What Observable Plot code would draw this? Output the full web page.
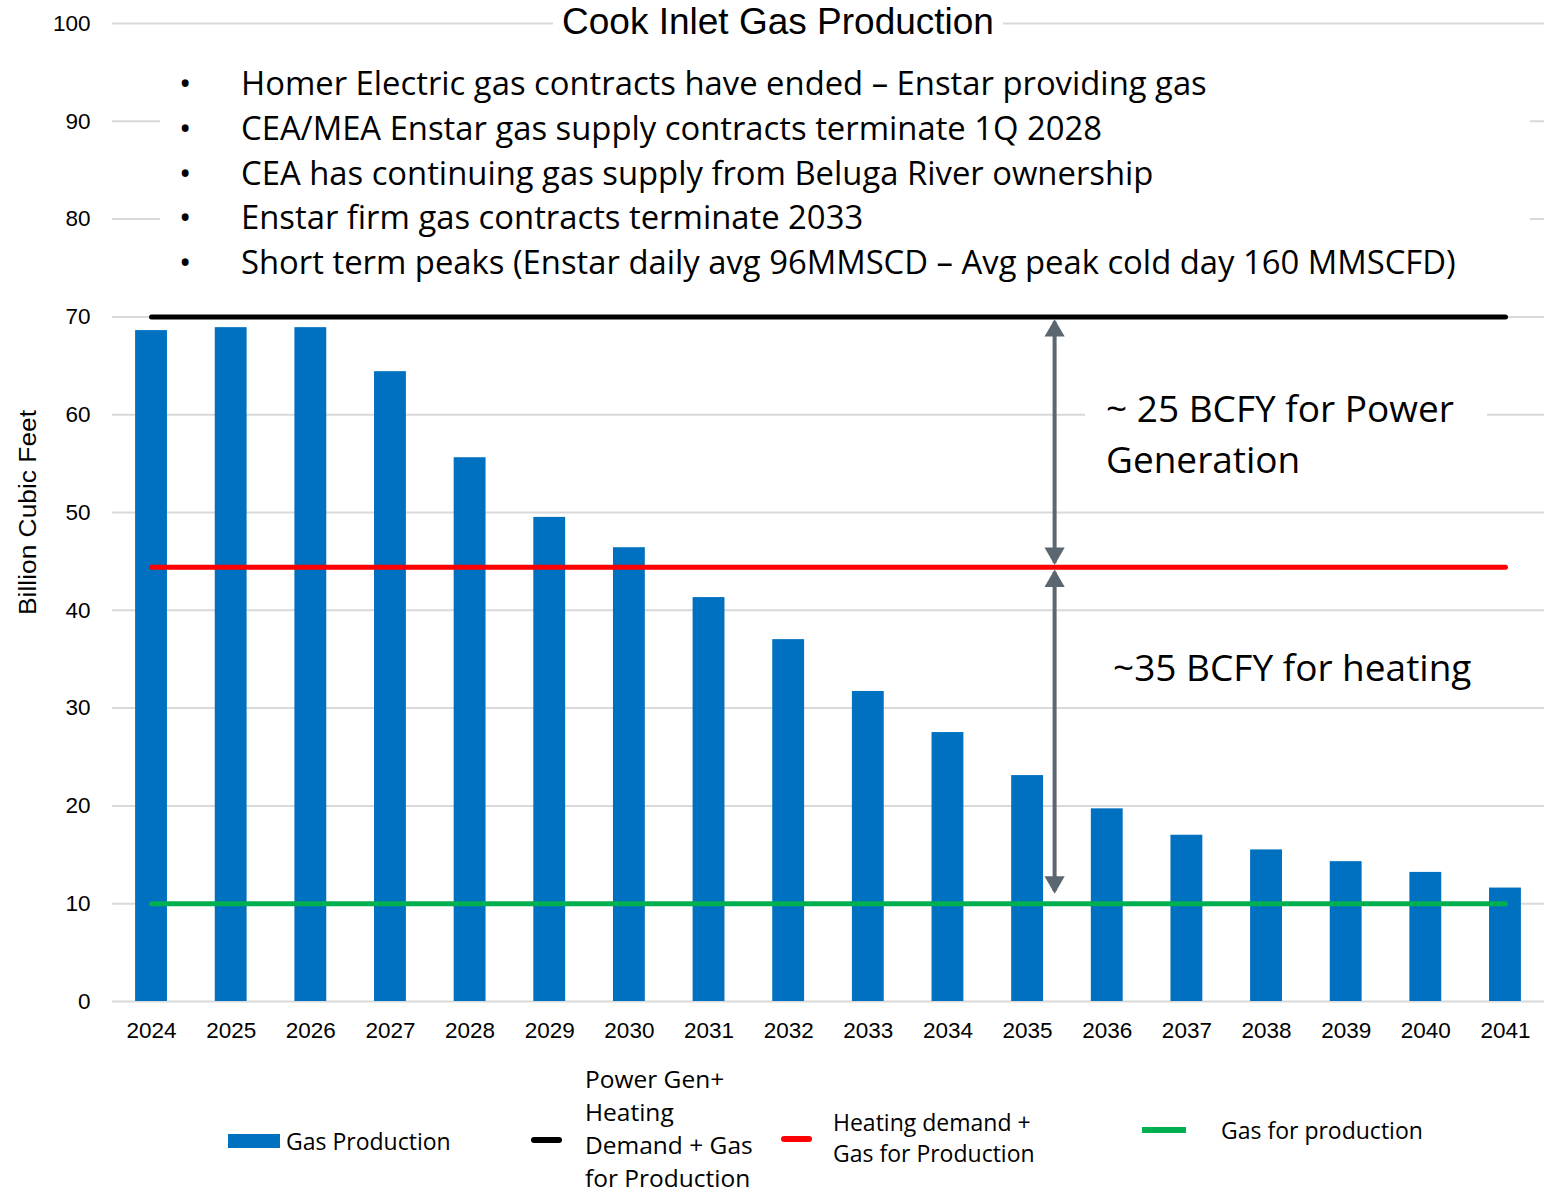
<!DOCTYPE html>
<html><head><meta charset="utf-8">
<script src="https://cdn.jsdelivr.net/npm/d3@7"></script>
<script src="https://cdn.jsdelivr.net/npm/@observablehq/plot@0.6"></script>
<style>
body{margin:0;background:#fff;}
#wrap{position:relative;width:1544px;height:1199px;overflow:hidden;font-family:"Liberation Sans",Arial,sans-serif;background:#fff;}
.ov{position:absolute;color:#000;white-space:nowrap;}
.bg{background:#fff;}
.cal{font-family:"Open Sans","Noto Sans",sans-serif;}
</style></head><body><div id="wrap"></div>
<script>
// ---------- data ----------
const years = ["2024","2025","2026","2027","2028","2029","2030","2031","2032","2033","2034","2035","2036","2037","2038","2039","2040","2041"];
const gasProduction = [68.6, 68.9, 68.9, 64.4, 55.6, 49.5, 46.4, 41.3, 37.0, 31.7, 27.5, 23.1, 19.7, 17.0, 15.5, 14.3, 13.2, 11.6];
const yTicks = [0, 10, 20, 30, 40, 50, 60, 70, 80, 90, 100];
const lineNames = ["Power Gen+ Heating Demand + Gas for Production", "Heating demand + Gas for Production", "Gas for production"];
const lineValues = [70, 44.4, 10];
const lineColors = ["#000000", "#ff0000", "#00b050"];
const barColor = "#0070c0";
const arrowYear = "2035";
const arrowStart = [69.5, 43.9];   // upper tips
const arrowEnd = [44.9, 11.3];     // lower tips
const title = "Cook Inlet Gas Production";
const yLabel = "Billion Cubic Feet";
const bullets = [
  "Homer Electric gas contracts have ended \u2013 Enstar providing gas",
  "CEA/MEA Enstar gas supply contracts terminate 1Q 2028",
  "CEA has continuing gas supply from Beluga River ownership",
  "Enstar firm gas contracts terminate 2033",
  "Short term peaks (Enstar daily avg 96MMSCD \u2013 Avg peak cold day 160 MMSCFD)"
];
const powerNote = ["~ 25 BCFY for Power", "Generation"];
const heatNote = "~35 BCFY for heating";
const legendBlackLines = ["Power Gen+", "Heating", "Demand + Gas", "for Production"];
const legendRedLines = ["Heating demand +", "Gas for Production"];

// ---------- tables ----------
const bars = years.map((year, i) => ({year, value: gasProduction[i]}));
const refLines = lineNames.flatMap((name, k) => [years[0], years[years.length - 1]].map(year => ({name, year, value: lineValues[k]})));
const arrows = arrowStart.map((s, i) => ({year: arrowYear, y1: s, y2: arrowEnd[i]}));

const arrowColor = "#5b6770";
const triR = 7.5;
const triOff = 9;

const chart = Plot.plot({
  width: 1544,
  height: 1060,
  marginLeft: 112,
  marginRight: 0,
  marginTop: 23,
  marginBottom: 59,
  style: {fontFamily: "'Liberation Sans', Arial, sans-serif", fontSize: "22.5px", color: "#000", background: "#fff"},
  x: {domain: years, paddingInner: 0.6, paddingOuter: 0.29, round: false, tickSize: 0, tickPadding: 21, label: null},
  y: {domain: [0, 100], ticks: yTicks, tickSize: 0, tickPadding: 22, label: null},
  color: {domain: lineNames, range: lineColors},
  marks: [
    Plot.ruleY(yTicks, {stroke: "#d9d9d9", strokeWidth: 2}),
    Plot.barY(bars, {x: "year", y: "value", fill: barColor}),
    Plot.line(refLines, {x: "year", y: "value", z: "name", stroke: "name", strokeWidth: 5, strokeLinecap: "round"}),
    Plot.link(arrows, {x1: "year", x2: "year", y1: "y1", y2: "y2", stroke: arrowColor, strokeWidth: 4, dx: 27}),
    Plot.dot(arrows, {x: "year", y: "y1", symbol: "triangle", r: triR, fill: arrowColor, stroke: "none", dx: 27, dy: triOff}),
    Plot.dot(arrows, {x: "year", y: "y2", symbol: "triangle", r: triR, fill: arrowColor, stroke: "none", rotate: 180, dx: 27, dy: -triOff}),
    Plot.text([yLabel], {frameAnchor: "left", textAnchor: "middle", dx: -84, rotate: -90, fontSize: 23, fill: "#000"})
  ]
});

const wrap = document.getElementById("wrap");
wrap.appendChild(chart);
chart.style.position = "absolute";
chart.style.left = "0px";
chart.style.top = "0px";
// stretch the axis title to the reference's length
d3.select(chart).selectAll("text").filter(function() { return this.textContent === yLabel; })
  .attr("textLength", 205).attr("lengthAdjust", "spacingAndGlyphs");

function ov(text, css, cls = "ov") {
  const d = document.createElement("div");
  d.className = cls;
  d.textContent = text;
  Object.assign(d.style, css);
  wrap.appendChild(d);
  return d;
}

// title
ov(title, {left: "778px", top: "22px", transform: "translate(-50%,-50%)", fontSize: "37px", lineHeight: "44px", padding: "0 9px"}, "ov bg");

// bullet box
const bfs = "32.8px";
const box = document.createElement("div");
box.className = "ov bg cal";
Object.assign(box.style, {left: "160px", top: "58px", width: "1370px", height: "232px"});
wrap.appendChild(box);
bullets.forEach((t, i) => {
  const c = 83 - 58 + i * 44.75;
  const b = document.createElement("div");
  b.className = "ov";
  b.textContent = "\u2022";
  Object.assign(b.style, {left: "19px", top: (c - 22) + "px", lineHeight: "44px", fontSize: bfs});
  box.appendChild(b);
  const s = document.createElement("div");
  s.className = "ov";
  s.textContent = t;
  Object.assign(s.style, {left: "81px", top: (c - 22) + "px", lineHeight: "44px", fontSize: bfs});
  box.appendChild(s);
});

// power note
const pn = document.createElement("div");
pn.className = "ov bg cal";
Object.assign(pn.style, {left: "1085px", top: "382px", width: "402px", height: "104px", fontSize: "37px", lineHeight: "51px", paddingLeft: "21px", boxSizing: "border-box"});
pn.innerHTML = powerNote.join("<br>");
wrap.appendChild(pn);

// heating note
ov(heatNote, {left: "1113px", top: "641px", fontSize: "37px", lineHeight: "52px"}, "ov cal");

// legend
function swatch(left, top, w, h, color, radius) {
  const d = document.createElement("div");
  Object.assign(d.style, {position: "absolute", left: left + "px", top: top + "px", width: w + "px", height: h + "px", background: color, borderRadius: radius + "px"});
  wrap.appendChild(d);
}
swatch(228, 1134, 52, 14, barColor, 0);
ov("Gas Production", {left: "286px", top: "1124px", fontSize: "23px", lineHeight: "34px"}, "ov cal");
swatch(531, 1137, 31, 6, lineColors[0], 3);
legendBlackLines.forEach((t, i) => ov(t, {left: "585px", top: (1079 - 13 + i * 33) + "px", fontSize: "24.5px", lineHeight: "26px"}, "ov cal"));
swatch(781, 1136, 31, 6, lineColors[1], 3);
legendRedLines.forEach((t, i) => ov(t, {left: "833px", top: (1122 - 16 + i * 31) + "px", fontSize: "23px", lineHeight: "32px"}, "ov cal"));
swatch(1142, 1127, 44, 6, lineColors[2], 0);
ov(lineNames[2], {left: "1221px", top: "1113px", fontSize: "23px", lineHeight: "34px"}, "ov cal");
</script></body></html>
